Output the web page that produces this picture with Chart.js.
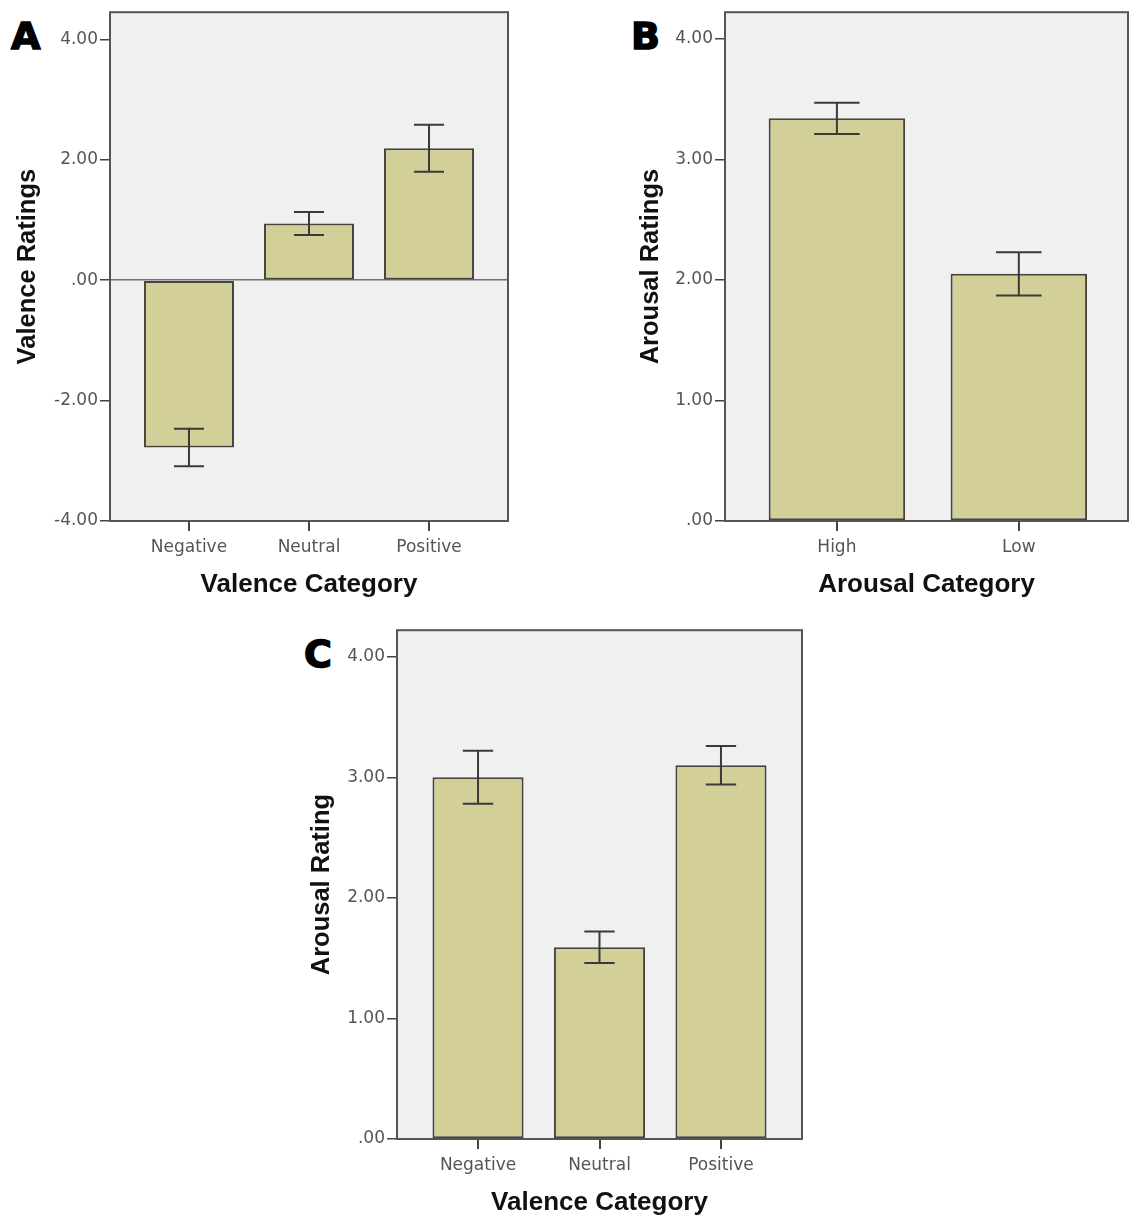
<!DOCTYPE html>
<html>
<head>
<meta charset="utf-8">
<script src="https://cdn.jsdelivr.net/npm/chart.js@4.4.1/dist/chart.umd.min.js"></script>
<style>
  body { margin: 0; background: #fff; width: 1129px; height: 1218px; position: relative; overflow: hidden; }
  canvas { position: absolute; }
  .tag { position: absolute; font-family: "DejaVu Sans", sans-serif; font-weight: bold; font-size: 38px; line-height: 38px; color: #000; -webkit-text-stroke: 1.5px #000; }
</style>
</head>
<body>
<div class="tag" style="left:11px; top:17px">A</div>
<div class="tag" style="left:631px; top:17px">B</div>
<div class="tag" style="left:304px; top:635px">C</div>
<canvas id="chartA" width="520" height="600" style="left:0px; top:0px"></canvas>
<canvas id="chartB" width="509" height="600" style="left:620px; top:0px"></canvas>
<canvas id="chartC" width="530" height="600" style="left:290px; top:618px"></canvas>
<script>
// panel A: valence ratings by valence category
const valenceCats = ['Negative', 'Neutral', 'Positive']
const valenceMeans = [-2.78, 0.94, 2.19]
const valenceErrs = [0.31, 0.19, 0.39]
const valenceTicks = [-4, -2, 0, 2, 4]

// panel B: arousal ratings by arousal category
const arousalCats = ['High', 'Low']
const arousalMeans = [3.34, 2.05]
const arousalErrs = [0.13, 0.18]

// panel C: arousal rating by valence category
const arousalByValMeans = [3.00, 1.59, 3.10]
const arousalByValErrs = [0.22, 0.13, 0.16]
const arousalTicks = [0, 1, 2, 3, 4]

const fmt = v => v.toFixed(2).replace(/^(-?)0\./, '$1.')

const panelPlugin = {
    id: 'panel',
    beforeDraw(chart) {
        const a = chart.chartArea, ctx = chart.ctx
        ctx.save()
        ctx.fillStyle = '#f0f0f0'
        ctx.fillRect(a.left, a.top, a.right - a.left, a.bottom - a.top)
        ctx.restore()
    },
    afterDatasetsDraw(chart) {
        const ctx = chart.ctx, y = chart.scales.y
        const ds = chart.data.datasets[0]
        chart.getDatasetMeta(0).data.forEach((bar, i) => {
            const v = ds.data[i].y
            const top = y.getPixelForValue(v + ds.errs[i])
            const bot = y.getPixelForValue(v - ds.errs[i])
            const half = bar.width / 6
            ctx.save()
            ctx.strokeStyle = '#3a3a3a'
            ctx.lineWidth = 2
            ctx.beginPath()
            ctx.moveTo(bar.x, top); ctx.lineTo(bar.x, bot)
            ctx.moveTo(bar.x - half, top); ctx.lineTo(bar.x + half, top)
            ctx.moveTo(bar.x - half, bot); ctx.lineTo(bar.x + half, bot)
            ctx.stroke()
            ctx.restore()
        })
        const a = chart.chartArea
        ctx.save()
        ctx.strokeStyle = '#555'
        ctx.lineWidth = 2
        ctx.strokeRect(a.left, a.top, a.right - a.left, a.bottom - a.top)
        ctx.restore()
    }
}

function makePanel(id, cats, means, errs, ticks, cfg) {
    return new Chart(document.getElementById(id), {
        type: 'bar',
        data: {
            datasets: [{
                data: cats.map((c, i) => ({x: i + 1, y: means[i]})),
                errs: errs,
                backgroundColor: '#d3cf98',
                borderColor: '#45453d',
                borderWidth: 2,
                borderSkipped: false,
                categoryPercentage: 0.75,
                barPercentage: 1
            }]
        },
        options: {
            responsive: false,
            animation: false,
            layout: { padding: { top: cfg.top, right: cfg.right, left: 0, bottom: 0 } },
            plugins: { legend: { display: false }, tooltip: { enabled: false } },
            scales: {
                x: {
                    type: 'linear',
                    offset: false,
                    min: cfg.xmin,
                    max: cfg.xmax,
                    afterBuildTicks: s => { s.ticks = cats.map((c, i) => ({value: i + 1})) },
                    afterFit: s => { s.height = 79 },
                    border: { display: false },
                    grid: { offset: false, drawOnChartArea: false, tickLength: 10, tickColor: '#444', lineWidth: 2 },
                    ticks: {
                        padding: 6,
                        color: '#555',
                        font: { family: 'DejaVu Sans', size: 17 },
                        callback: v => cats[v - 1]
                    },
                    title: {
                        display: true,
                        text: cfg.xTitle,
                        color: '#111',
                        padding: { top: 0, bottom: 0 },
                        font: { family: 'Liberation Sans', size: 26, weight: 'bold' }
                    }
                },
                y: {
                    min: ticks[0],
                    max: cfg.ymax,
                    afterBuildTicks: s => { s.ticks = ticks.map(v => ({value: v})) },
                    afterFit: s => { s.width = cfg.yWidth },
                    border: { display: false },
                    grid: {
                        color: c => (cfg.zeroLine && c.tick && c.tick.value === 0) ? '#707070' : 'rgba(0,0,0,0)',
                        lineWidth: 1.5,
                        tickColor: '#444',
                        tickLength: 10
                    },
                    ticks: {
                        padding: 2,
                        color: '#555',
                        font: { family: 'DejaVu Sans', size: 17 },
                        callback: v => fmt(v)
                    },
                    title: {
                        display: true,
                        text: cfg.yTitle,
                        color: '#111',
                        padding: { top: cfg.yTitlePad, bottom: 0 },
                        font: { family: 'Liberation Sans', size: 25.5, weight: 'bold' }
                    }
                }
            }
        },
        plugins: [panelPlugin]
    })
}

makePanel('chartA', valenceCats, valenceMeans, valenceErrs, valenceTicks, {
    top: 11, right: 12, yWidth: 110, xmin: 0.342, xmax: 3.658, ymax: 4.45,
    xTitle: 'Valence Category', yTitle: 'Valence Ratings', yTitlePad: 13, zeroLine: true
})
makePanel('chartB', arousalCats, arousalMeans, arousalErrs, arousalTicks, {
    top: 11, right: 1, yWidth: 105, xmin: 0.385, xmax: 2.6, ymax: 4.22,
    xTitle: 'Arousal Category', yTitle: 'Arousal Ratings', yTitlePad: 16, zeroLine: false
})
makePanel('chartC', valenceCats, arousalByValMeans, arousalByValErrs, arousalTicks, {
    top: 10, right: 18, yWidth: 107, xmin: 0.333, xmax: 3.667, ymax: 4.22,
    xTitle: 'Valence Category', yTitle: 'Arousal Rating', yTitlePad: 17, zeroLine: false
})
</script>
</body>
</html>
